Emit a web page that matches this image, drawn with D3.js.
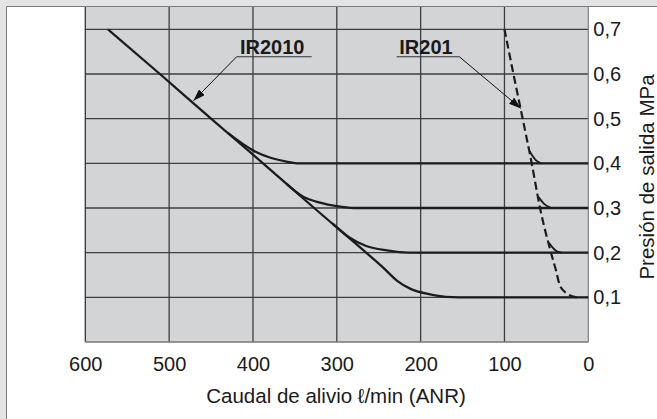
<!DOCTYPE html>
<html>
<head>
<meta charset="utf-8">
<script src="https://cdn.jsdelivr.net/npm/d3@7"></script>
<style>
  html, body { margin: 0; padding: 0; background: #e3e4e6; }
  svg { display: block; font-family: "Liberation Sans", Arial, Helvetica, sans-serif; }
</style>
</head>
<body>
<svg id="chart" width="657" height="419"></svg>
<script>
// ---- data ----
const xTicks = [600, 500, 400, 300, 200, 100, 0];
const yTicks = [0.1, 0.2, 0.3, 0.4, 0.5, 0.6, 0.7];
const yTickLabels = ["0,1", "0,2", "0,3", "0,4", "0,5", "0,6", "0,7"];
const xTitle = "Caudal de alivio \u2113/min (ANR)";
const yTitle = "Presión de salida  MPa";

// IR2010 main line (relief flow vs outlet pressure), ends on the 0.1 MPa setting
const ir2010Main = [[573, 0.70], [511, 0.60], [450, 0.50], [388, 0.40], [327, 0.30], [265, 0.20],
                    [245, 0.167], [228, 0.137], [212, 0.119], [190, 0.107], [170, 0.101], [155, 0.10], [0, 0.10]];
// IR2010 branches for each pressure setting
const ir2010Set04 = [[430, 0.468], [400, 0.429], [380, 0.413], [360, 0.404], [345, 0.40], [0, 0.40]];
const ir2010Set03 = [[360, 0.354], [340, 0.325], [320, 0.312], [300, 0.304], [280, 0.30], [0, 0.30]];
const ir2010Set02 = [[305, 0.265], [285, 0.234], [265, 0.215], [240, 0.205], [215, 0.20], [0, 0.20]];
// IR201 (dashed)
const ir201Main = [[100, 0.70], [89.3, 0.60], [78.3, 0.50], [67.5, 0.40], [57.6, 0.30], [44.5, 0.20],
                   [38.5, 0.16], [33.8, 0.126], [25.8, 0.109], [14, 0.10]];
const ir201Set04 = [[70, 0.427], [63, 0.408], [56, 0.40]];
const ir201Set03 = [[60, 0.326], [52, 0.308], [44, 0.30]];
const ir201Set02 = [[47, 0.222], [39, 0.205], [32, 0.20]];

// labels
const labels = [
  { text: "IR2010", lx: 240, ly: 54, ux0: 236.7, ux1: 311.7, uy: 56.7, anchorX: 236.7, tip: [471, 0.54] },
  { text: "IR201",  lx: 399.3, ly: 54, ux0: 396.7, ux1: 459.3, uy: 56.7, anchorX: 459.3, tip: [80.5, 0.523] }
];

// ---- drawing ----
const svg = d3.select("#chart");
const W = 657, H = 419;
const x = d3.scaleLinear().domain([600, 0]).range([85.3, 588.3]);
const y = d3.scaleLinear().domain([0, 0.75]).range([342, 7]);

// frame
svg.append("rect").attr("x", 0).attr("y", 0).attr("width", W).attr("height", H).attr("fill", "#e3e4e6");
svg.append("rect").attr("x", 6.5).attr("y", 6.5).attr("width", W).attr("height", H).attr("fill", "#ffffff");
svg.append("line").attr("x1", 6.5).attr("x2", 6.5).attr("y1", 6.5).attr("y2", H).attr("stroke", "#7a7a7a").attr("stroke-width", 1);
svg.append("line").attr("x1", 6.5).attr("x2", W).attr("y1", 6.5).attr("y2", 6.5).attr("stroke", "#7a7a7a").attr("stroke-width", 1);

// plot background
svg.append("rect")
  .attr("x", x(600)).attr("y", y(0.75))
  .attr("width", x(0) - x(600)).attr("height", y(0) - y(0.75))
  .attr("fill", "#d3d4d6");

// grid
const grid = svg.append("g").attr("stroke", "#3e3e3e").attr("stroke-width", 1.3);
grid.selectAll("line.v").data(xTicks.filter(d => d !== 0 && d !== 600)).enter().append("line")
  .attr("x1", d => x(d)).attr("x2", d => x(d)).attr("y1", y(0.75)).attr("y2", y(0));
grid.selectAll("line.h").data(yTicks).enter().append("line")
  .attr("x1", x(600)).attr("x2", x(0)).attr("y1", d => y(d)).attr("y2", d => y(d));
// borders
svg.append("line").attr("x1", x(600)).attr("x2", x(600)).attr("y1", y(0.75)).attr("y2", y(0))
  .attr("stroke", "#333").attr("stroke-width", 1.3);
svg.append("line").attr("x1", x(600)).attr("x2", x(0)).attr("y1", y(0)).attr("y2", y(0))
  .attr("stroke", "#777").attr("stroke-width", 1.3);
svg.append("line").attr("x1", x(0)).attr("x2", x(0)).attr("y1", y(0.75)).attr("y2", y(0))
  .attr("stroke", "#888").attr("stroke-width", 1.3);

// curves
const line = d3.line().x(d => x(d[0])).y(d => y(d[1])).curve(d3.curveMonotoneX);
const sortAsc = arr => arr.slice().sort((a, b) => a[0] - b[0]);
const curves = svg.append("g").attr("fill", "none").attr("stroke", "#1c1c1c").attr("stroke-linejoin", "round");
[ir2010Set04, ir2010Set03, ir2010Set02, ir2010Main].forEach(c => {
  curves.append("path").attr("d", line(sortAsc(c))).attr("stroke-width", 2.3);
});
[ir201Set04, ir201Set03, ir201Set02].forEach(c => {
  curves.append("path").attr("d", line(sortAsc(c))).attr("stroke-width", 1.8);
});
curves.append("path").attr("d", line(sortAsc(ir201Main)))
  .attr("stroke-width", 2.2).attr("stroke-dasharray", "8,4");

// axes
const xAxis = d3.axisBottom(x).tickValues(xTicks).tickSize(0).tickPadding(14.5).tickFormat(d3.format("d"));
const gx = svg.append("g").attr("transform", `translate(0,${y(0)})`).call(xAxis);
gx.select(".domain").remove();
gx.selectAll("text").attr("font-size", 20).attr("fill", "#1a1a1a").attr("font-family", "Liberation Sans, Arial, sans-serif");

const yAxis = d3.axisRight(y).tickValues(yTicks).tickSize(0).tickPadding(5)
  .tickFormat((d, i) => yTickLabels[i]);
const gy = svg.append("g").attr("transform", `translate(${x(0)},0)`).call(yAxis);
gy.select(".domain").remove();
gy.selectAll("text").attr("font-size", 20).attr("fill", "#1a1a1a").attr("font-family", "Liberation Sans, Arial, sans-serif");

// titles
svg.append("text").attr("x", 336).attr("y", 403).attr("text-anchor", "middle")
  .attr("font-size", 20.5).attr("fill", "#1a1a1a").text(xTitle);
svg.append("text").attr("transform", "translate(654,177) rotate(-90)").attr("text-anchor", "middle")
  .attr("font-size", 20.5).attr("fill", "#1a1a1a").text(yTitle);

// annotations
const defs = svg.append("defs");
defs.append("marker").attr("id", "arrow").attr("viewBox", "0 0 12 8").attr("refX", 12).attr("refY", 4)
  .attr("markerWidth", 12).attr("markerHeight", 8).attr("markerUnits", "userSpaceOnUse").attr("orient", "auto")
  .append("path").attr("d", "M0,0 L12,4 L0,8 Z").attr("fill", "#111");

labels.forEach(l => {
  svg.append("text").attr("x", l.lx).attr("y", l.ly).attr("font-size", 20).attr("font-weight", "bold")
    .attr("fill", "#1a1a1a").text(l.text);
  svg.append("line").attr("x1", l.ux0).attr("x2", l.ux1).attr("y1", l.uy).attr("y2", l.uy)
    .attr("stroke", "#333").attr("stroke-width", 1.1);
  svg.append("line").attr("x1", l.anchorX).attr("y1", l.uy).attr("x2", x(l.tip[0])).attr("y2", y(l.tip[1]))
    .attr("stroke", "#111").attr("stroke-width", 1).attr("marker-end", "url(#arrow)");
});
</script>
</body>
</html>
